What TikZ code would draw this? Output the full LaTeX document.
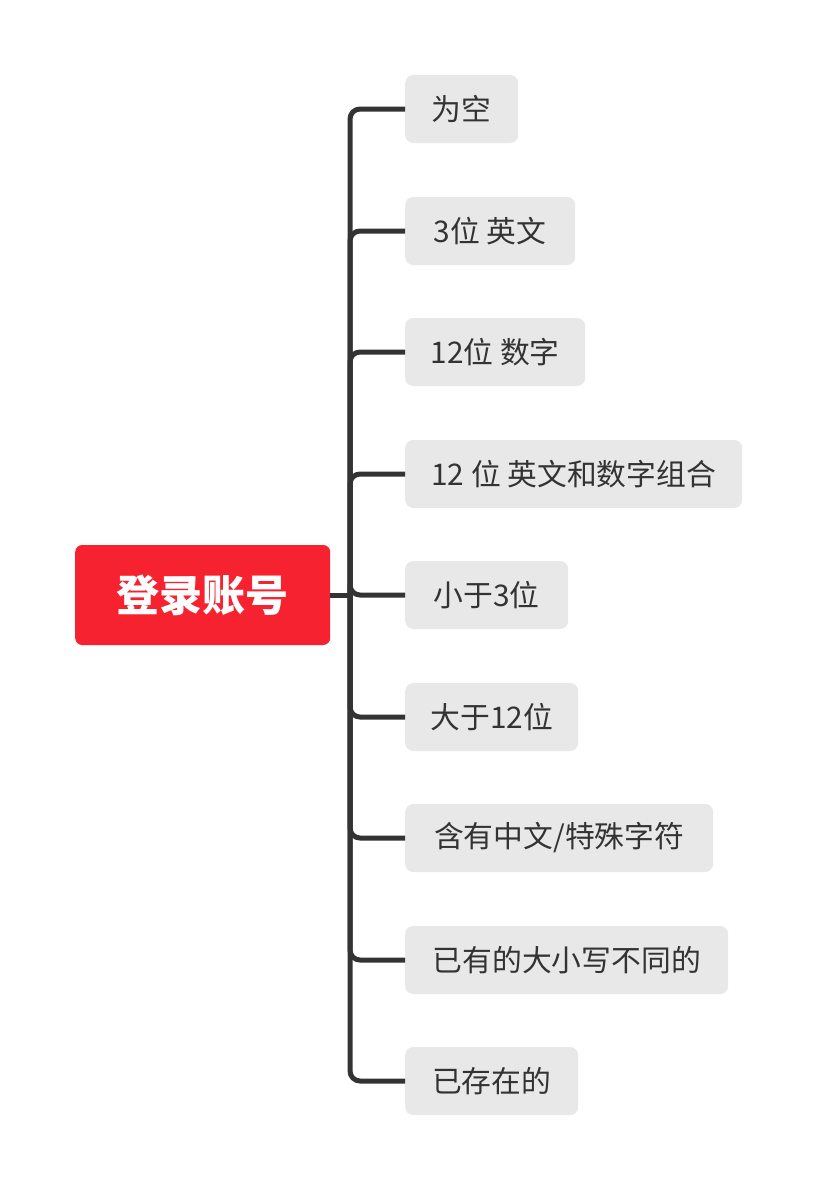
\documentclass[tikz,border=0pt]{standalone}
\usepackage{fontspec}
\setmainfont{Noto Sans CJK SC}
\newfontfamily\cjk{Noto Sans CJK SC}
\definecolor{rootred}{HTML}{F7222F}
\definecolor{leafgray}{HTML}{E8E8E8}
\definecolor{linegray}{HTML}{333333}
\begin{document}
\begin{tikzpicture}[x=1pt,y=-1pt,
  rootbox/.style={fill=rootred, rounded corners=7pt, minimum width=255pt, minimum height=100pt,
    inner sep=0pt, text=white, font=\cjk\fontsize{43}{50}\selectfont\bfseries, anchor=west},
  leafbox/.style={fill=leafgray, rounded corners=8pt, minimum height=68pt, inner sep=0pt,
    text=linegray, font=\cjk\fontsize{29.8}{34}\selectfont, anchor=west},
  conn/.style={draw=linegray, line width=5pt, rounded corners=10pt}]
\useasboundingbox (0,0) rectangle (817,1191);
\node[rootbox] (root) at (75,595) {登录账号};
\coordinate (trunk) at (350,595);
\node[leafbox, minimum width=113pt] (l1) at (405,109) {为空};
\node[leafbox, minimum width=170pt] (l2) at (405,231) {3位 英文};
\node[leafbox, minimum width=180pt] (l3) at (405,352) {12位 数字};
\node[leafbox, minimum width=337pt] (l4) at (405,474) {12 位 英文和数字组合};
\node[leafbox, minimum width=163pt] (l5) at (405,595) {小于3位};
\node[leafbox, minimum width=173pt] (l6) at (405,717) {大于12位};
\node[leafbox, minimum width=308pt] (l7) at (405,838) {含有中文/特殊字符};
\node[leafbox, minimum width=323pt] (l8) at (405,960) {已有的大小写不同的};
\node[leafbox, minimum width=173pt] (l9) at (405,1081) {已存在的};
\draw[conn] (root.east) -- (trunk);
\foreach \n in {l1,l2,l3,l4,l5,l6,l7,l8,l9}
  \draw[conn] (trunk) |- (\n.west);
\end{tikzpicture}
\end{document}
